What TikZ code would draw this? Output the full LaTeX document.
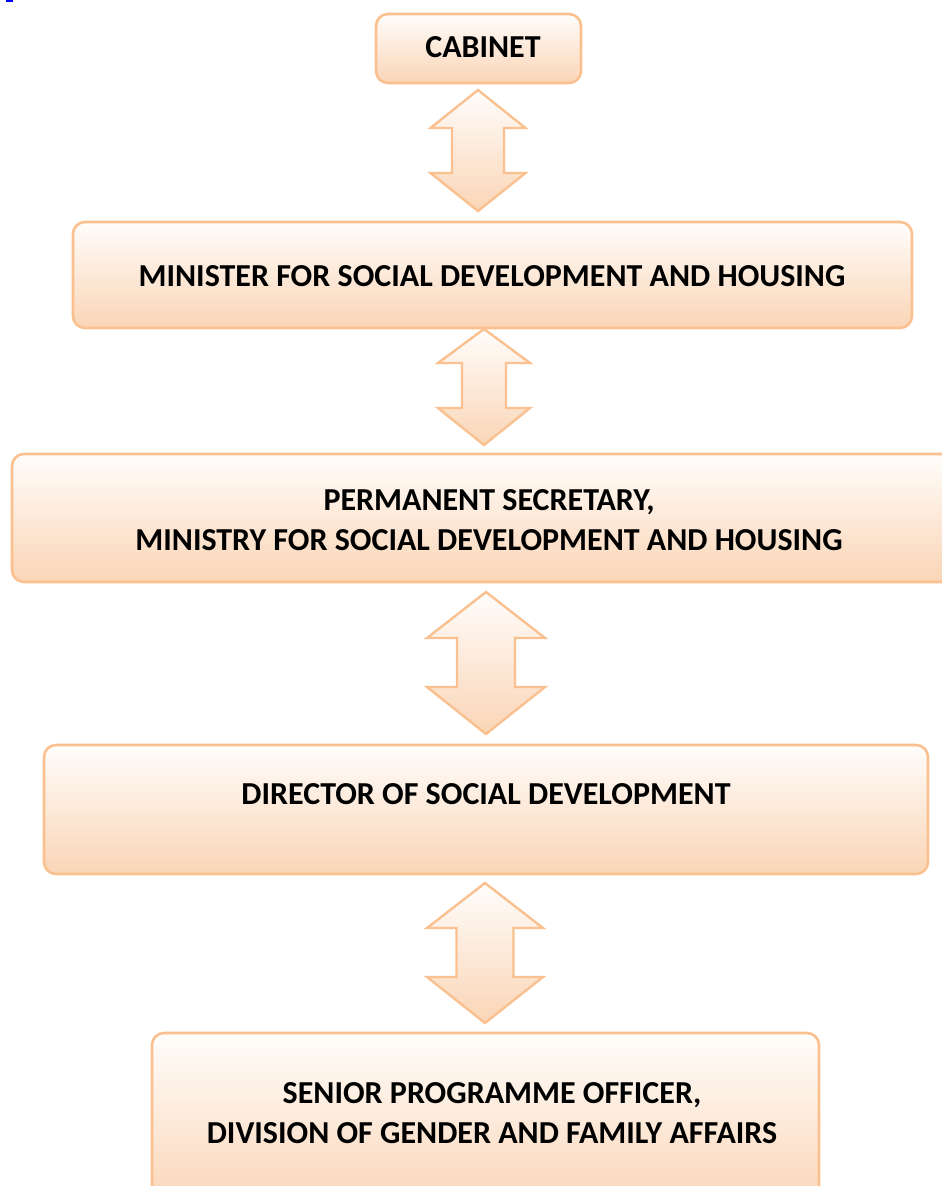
\documentclass[tikz,border=0pt]{standalone}
\usepackage{fontspec}
\setmainfont{Carlito}
\definecolor{edgeorange}{RGB}{250,192,143}
\definecolor{filltop}{RGB}{255,253,251}
\definecolor{fillbottom}{RGB}{250,213,182}
\tikzset{
  orgbox/.style={draw=edgeorange, line width=2.6pt, rounded corners=12pt,
    top color=filltop, bottom color=fillbottom, inner sep=0pt},
  orgtext/.style={font=\fontsize{32}{40}\selectfont\bfseries, align=center, text=black},
  linkarrow/.style={draw=edgeorange, line width=2.4pt, line join=miter,
    top color=filltop, bottom color=fillbottom}
}
% double-headed block arrow: centre x, top tip y, bottom tip y,
% head half width, shaft half width, top head length, bottom head length
\newcommand\dblarrow[7]{%
  \path[linkarrow] (#1,#2) -- (#1+#4,#2+#6) -- (#1+#5,#2+#6) -- (#1+#5,#3-#7)
    -- (#1+#4,#3-#7) -- (#1,#3) -- (#1-#4,#3-#7) -- (#1-#5,#3-#7)
    -- (#1-#5,#2+#6) -- (#1-#4,#2+#6) -- cycle;}
\begin{document}
\begin{tikzpicture}[x=1pt,y=-1pt]
\useasboundingbox (0,0) rectangle (942,1186);
\clip (0,0) rectangle (942,1186);
\fill[blue] (6,0) rectangle (13,1.5);

% boxes
\path[orgbox] (376,14) rectangle (581,83);
\path[orgbox] (73,222) rectangle (912,328);
\path[orgbox] (12,454) rectangle (958,582);
\path[orgbox] (44,745) rectangle (928,874);
\path[orgbox] (152,1033) rectangle (819,1210);

% labels
\node[orgtext] (cabinet) at (483,47) {CABINET};
\node[orgtext] (minister) at (492,276) {MINISTER FOR SOCIAL DEVELOPMENT AND HOUSING};
\node[orgtext] (permsec) at (489,520) {PERMANENT SECRETARY,\\MINISTRY FOR SOCIAL DEVELOPMENT AND HOUSING};
\node[orgtext] (director) at (486,794) {DIRECTOR OF SOCIAL DEVELOPMENT};
\node[orgtext] (senior) at (492,1113) {SENIOR PROGRAMME OFFICER,\\DIVISION OF GENDER AND FAMILY AFFAIRS};

% two-way links between levels
\dblarrow{478}{90}{211}{47.5}{26}{38}{38}
\dblarrow{484}{329}{445}{46}{22}{34}{37}
\dblarrow{486}{592}{734}{59}{29}{46}{47}
\dblarrow{485}{883}{1023}{58}{28.5}{45}{46}
\end{tikzpicture}
\end{document}
